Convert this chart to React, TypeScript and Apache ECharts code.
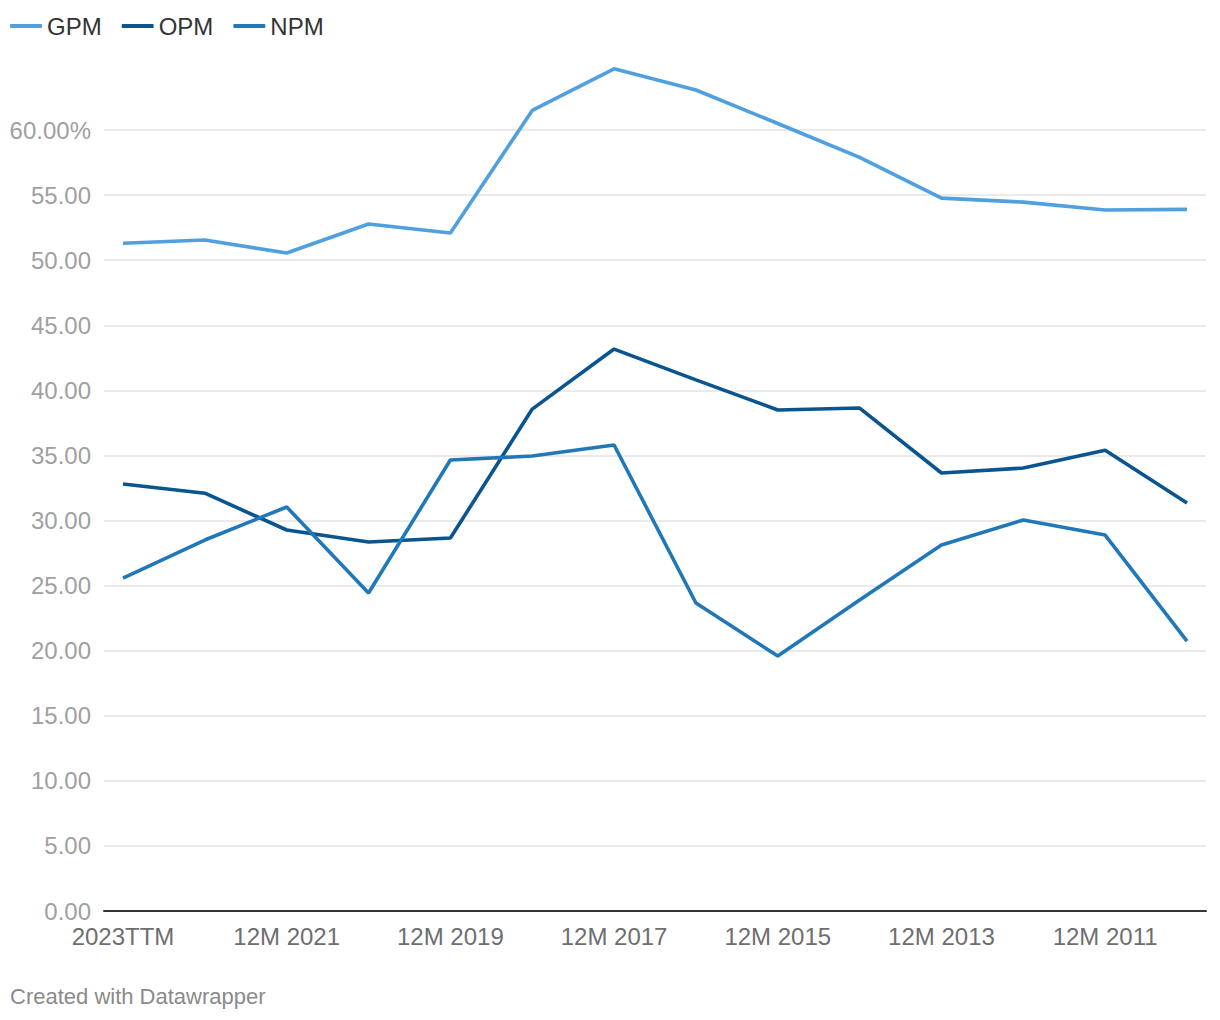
import React, { useEffect, useRef } from "react";
import * as echarts from "echarts";

const categories = [
  "2023TTM", "12M 2022", "12M 2021", "12M 2020", "12M 2019", "12M 2018", "12M 2017",
  "12M 2016", "12M 2015", "12M 2014", "12M 2013", "12M 2012", "12M 2011", "12M 2010",
];
const gpm = [51.3, 51.55, 50.55, 52.78, 52.09, 61.5, 64.7, 63.07, 60.5, 57.9, 54.77, 54.46, 53.85, 53.9];
const opm = [32.8, 32.1, 29.27, 28.35, 28.65, 38.56, 43.17, 40.8, 38.49, 38.64, 33.65, 34.03, 35.4, 31.34];
const npm = [25.58, 28.5, 31.04, 24.43, 34.65, 34.95, 35.8, 23.66, 19.59, 23.9, 28.12, 30.04, 28.88, 20.74];
const seriesNames = ["GPM", "OPM", "NPM"];
const colors = ["#509fdf", "#0a5490", "#2178b8"];

const FONT = "'Liberation Sans', Arial, Helvetica, sans-serif";

export default function App() {
  const ref = useRef<HTMLDivElement>(null);
  useEffect(() => {
    document.body.style.margin = "0";
    const chart = echarts.init(ref.current!, undefined, { renderer: "svg" });
    const values = [gpm, opm, npm];
    chart.setOption({
      animation: false,
      backgroundColor: "#ffffff",
      textStyle: { fontFamily: FONT },
      legend: {
        left: 10,
        top: 14,
        padding: 0,
        itemWidth: 32,
        itemHeight: 4,
        itemGap: 20,
        icon: "roundRect",
        textStyle: { fontSize: 24, color: "#333333", fontFamily: FONT },
        data: seriesNames,
      },
      graphic: [
        {
          type: "text",
          left: 10,
          top: 985,
          style: { text: "Created with Datawrapper", fontSize: 22, fill: "#8a8a8a", fontFamily: FONT },
        },
      ],
      grid: [
        { left: 104, right: 14, top: 130, bottom: 109 },
        { left: 123, right: 33, top: 130, bottom: 109 },
      ],
      xAxis: [
        {
          gridIndex: 0,
          type: "value",
          min: 0,
          max: 1,
          axisLine: { show: true, onZero: false, lineStyle: { color: "#333333", width: 2 } },
          axisTick: { show: false },
          axisLabel: { show: false },
          splitLine: { show: false },
        },
        {
          gridIndex: 1,
          type: "category",
          boundaryGap: false,
          data: categories,
          axisLine: { show: false },
          axisTick: { show: false },
          axisLabel: { interval: 1, fontSize: 24, color: "#6e6e6e", margin: 13, fontFamily: FONT },
          splitLine: { show: false },
        },
      ],
      yAxis: [
        {
          gridIndex: 0,
          type: "value",
          min: 0,
          max: 60,
          interval: 5,
          axisLine: { show: false },
          axisTick: { show: false },
          axisLabel: {
            fontSize: 24,
            color: "#a0a0a0",
            margin: 13,
            fontFamily: FONT,
            formatter: (v: number) => (v === 60 ? v.toFixed(2) + "%" : v.toFixed(2)),
          },
          splitLine: { lineStyle: { color: "#e3e3e3", width: 1.5 } },
        },
        {
          gridIndex: 1,
          type: "value",
          min: 0,
          max: 60,
          interval: 5,
          show: false,
          splitLine: { show: false },
        },
      ],
      series: seriesNames.map((name, i) => ({
        name,
        type: "line",
        xAxisIndex: 1,
        yAxisIndex: 1,
        data: values[i],
        symbol: "none",
        clip: false,
        color: colors[i],
        lineStyle: { color: colors[i], width: 3.6 },
      })),
    });
    return () => chart.dispose();
  }, []);
  return <div ref={ref} style={{ position: "absolute", left: 0, top: 0, width: 1220, height: 1020 }} />;
}
